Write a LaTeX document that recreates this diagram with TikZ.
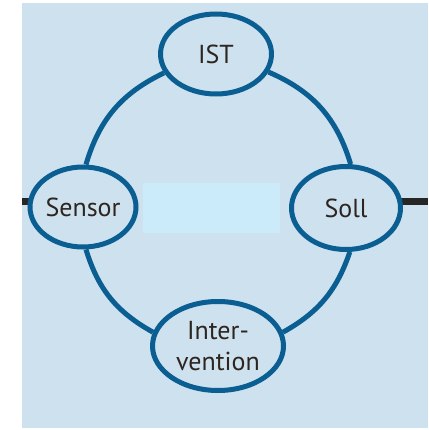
\documentclass[tikz,border=0pt]{standalone}
\usepackage{fontspec}
\setmainfont{PT Sans}
\usetikzlibrary{shapes.geometric}
\definecolor{bg}{HTML}{CDE2EE}
\definecolor{boxc}{HTML}{CCEBFA}
\definecolor{ring}{HTML}{0B5E92}
\definecolor{ink}{HTML}{2E2520}
\tikzset{
  state/.style={ellipse, draw=ring, line width=5pt, fill=bg, inner sep=0pt,
    text=ink, font=\fontsize{26}{31}\selectfont, align=center},
  link/.style={draw=ring, line width=5pt},
  stub/.style={draw=black!85, line width=7pt}
}
\begin{document}
\begin{tikzpicture}[x=1pt,y=-1pt]
\useasboundingbox (0,0) rectangle (428,430);
\fill[white] (0,0) rectangle (428,430);
\fill[bg] (22,3) rectangle (428,428);
\fill[boxc] (143,183) rectangle (280,233);
\coordinate (lstub) at (22,201);
\coordinate (rstub) at (428,201);
\draw[stub] (lstub) -- (40,201);
\draw[stub] (rstub) -- (390,201);
\node[state, minimum width=111pt, minimum height=80pt] (ist) at (216,54) {IST};
\node[state, minimum width=105pt, minimum height=80pt] (sensor) at (83,207) {Sensor};
\node[state, minimum width=109pt, minimum height=83pt] (soll) at (346,208) {Soll};
\node[state, minimum width=131pt, minimum height=89pt] (inter) at (218,346) {Inter-\\vention};
\draw[link] (ist.200) to[bend right=24] (sensor.86);
\draw[link] (ist.341) to[bend left=25] (soll.84);
\draw[link] (sensor.274) to[bend right=22] (inter.168);
\draw[link] (soll.275) to[bend left=21] (inter.12);
\end{tikzpicture}
\end{document}
